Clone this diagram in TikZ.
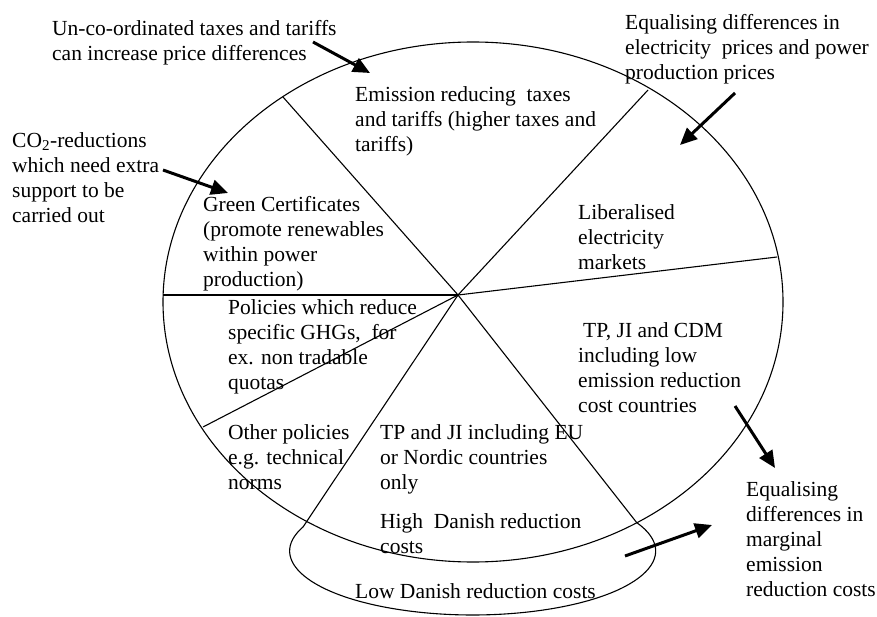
\documentclass[tikz,border=0pt]{standalone}
\usepackage{fontspec}
\setmainfont{Liberation Serif}
\usetikzlibrary{arrows.meta}
\begin{document}
\begin{tikzpicture}[x=1pt,y=-1pt,
  lbl/.style={anchor=north west, inner sep=0pt, align=left, font=\fontsize{21.5}{25}\selectfont},
  pointer/.style={line width=3pt, -{Triangle[length=17pt,width=15pt]}},
  rim/.style={line width=1.1pt}]
\useasboundingbox (0,0) rectangle (877,617);
\draw[rim] (473,302) ellipse [x radius=310, y radius=260];
\coordinate (hub) at (458,295);
\coordinate (s1) at (283,97);
\coordinate (s2) at (648,90);
\coordinate (s3) at (777,257);
\coordinate (s4) at (637,523);
\coordinate (s5) at (303,527);
\coordinate (s6) at (203,427);
\coordinate (s7) at (163,295);
\draw[rim](hub) -- (s1);
\draw[rim](hub) -- (s2);
\draw[rim](hub) -- (s3);
\draw[rim](hub) -- (s4);
\draw[rim](hub) -- (s5);
\draw[rim](hub) -- (s6);
\draw[rim](hub) -- (s7);
\draw[rim](s5) arc[start angle=202, end angle=-26, x radius=183, y radius=64];
\node[lbl] (unco) at (52,20) {Un-co-ordinated taxes and tariffs\\can increase price differences};
\node[lbl] (co2) at (12,132) {CO\textsubscript{2}-reductions\\which need extra\\support to be\\carried out};
\node[lbl] (green) at (203,196) {Green Certificates\\(promote renewables\\within power\\production)};
\node[lbl] (emis) at (355,86) {Emission reducing~ taxes\\and tariffs (higher taxes and\\tariffs)};
\node[lbl] (eqprice) at (625,14) {Equalising differences in\\electricity~ prices and power\\production prices};
\node[lbl] (liber) at (578,204) {Liberalised\\electricity\\markets};
\node[lbl] (policies) at (228,299) {Policies which reduce\\specific GHGs,~ for\\ex. non tradable\\quotas};
\node[lbl] (other) at (228,424) {Other policies\\e.g. technical\\norms};
\node[lbl] (tpji) at (380,424) {TP and JI including EU\\or Nordic countries\\only};
\node[lbl] (high) at (380,513) {High~ Danish reduction\\costs};
\node[lbl] (low) at (355,583) {Low Danish reduction costs};
\node[lbl] (cdm) at (578,322) {\hspace{5pt}TP, JI and CDM\\including low\\emission reduction\\cost countries};
\node[lbl] (eqmarg) at (746,481) {Equalising\\differences in\\marginal\\emission\\reduction costs};
\coordinate (a1) at (313,42);
\coordinate (b1) at (370,73);
\coordinate (a2) at (163,170);
\coordinate (b2) at (228,193);
\coordinate (a3) at (735,93);
\coordinate (b3) at (680,145);
\coordinate (a4) at (735,406);
\coordinate (b4) at (775,468);
\coordinate (a5) at (625,556);
\coordinate (b5) at (712,525);
\draw[pointer](a1) -- (b1);
\draw[pointer](a2) -- (b2);
\draw[pointer](a3) -- (b3);
\draw[pointer](a4) -- (b4);
\draw[pointer](a5) -- (b5);
\end{tikzpicture}
\end{document}
